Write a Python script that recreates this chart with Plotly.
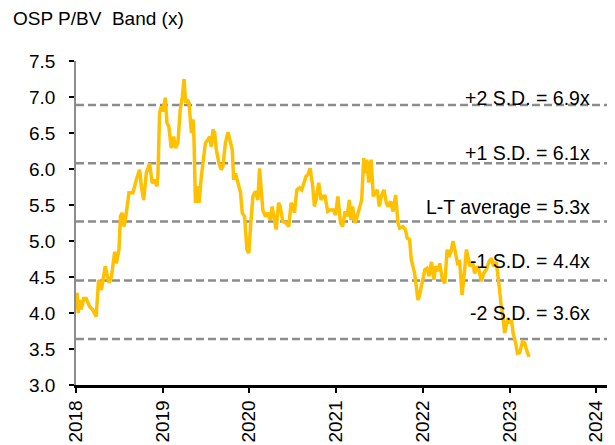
import plotly.graph_objects as go

# ---- data ----
dates = [
    "2018-01-02", "2018-01-06", "2018-01-10", "2018-01-16", "2018-01-23", "2018-02-02", "2018-02-13",
    "2018-02-27", "2018-03-11", "2018-03-20", "2018-03-27", "2018-04-06", "2018-04-18", "2018-05-04",
    "2018-05-20", "2018-05-30", "2018-06-13", "2018-06-20", "2018-07-01", "2018-07-07", "2018-07-15",
    "2018-07-22", "2018-08-01", "2018-08-12", "2018-08-29", "2018-09-12", "2018-09-26", "2018-10-03",
    "2018-10-13", "2018-10-24", "2018-11-07", "2018-11-18", "2018-11-28", "2018-12-08", "2018-12-12",
    "2018-12-19", "2018-12-26", "2019-01-02", "2019-01-12", "2019-01-19", "2019-01-27", "2019-02-06",
    "2019-02-16", "2019-02-24", "2019-03-06", "2019-03-16", "2019-03-25", "2019-04-01", "2019-04-08",
    "2019-04-15", "2019-04-22", "2019-05-02", "2019-05-09", "2019-05-13", "2019-05-19", "2019-05-27",
    "2019-06-03", "2019-06-13", "2019-06-23", "2019-06-30", "2019-07-11", "2019-07-18", "2019-07-25",
    "2019-08-01", "2019-08-08", "2019-08-15", "2019-08-26", "2019-09-05", "2019-09-12", "2019-09-22",
    "2019-10-03", "2019-10-13", "2019-10-21", "2019-10-27", "2019-11-04", "2019-11-14", "2019-11-25",
    "2019-12-02", "2019-12-12", "2019-12-22", "2019-12-30", "2020-01-06", "2020-01-16", "2020-01-27",
    "2020-02-06", "2020-02-13", "2020-02-20", "2020-02-27", "2020-03-09", "2020-03-19", "2020-03-29",
    "2020-04-06", "2020-04-16", "2020-04-23", "2020-05-03", "2020-05-10", "2020-05-21", "2020-06-04",
    "2020-06-15", "2020-06-25", "2020-07-02", "2020-07-09", "2020-07-19", "2020-07-30", "2020-08-09",
    "2020-08-17", "2020-08-27", "2020-09-03", "2020-09-13", "2020-09-24", "2020-10-01", "2020-10-08",
    "2020-10-19", "2020-10-29", "2020-11-05", "2020-11-15", "2020-11-26", "2020-12-06", "2020-12-20",
    "2020-12-29", "2021-01-08", "2021-01-19", "2021-01-28", "2021-02-07", "2021-02-16", "2021-02-25",
    "2021-03-04", "2021-03-11", "2021-03-21", "2021-03-30", "2021-04-09", "2021-04-18", "2021-04-27",
    "2021-05-04", "2021-05-10", "2021-05-18", "2021-05-28", "2021-06-06", "2021-06-14", "2021-06-23",
    "2021-07-01", "2021-07-10", "2021-07-21", "2021-07-31", "2021-08-07", "2021-08-18", "2021-08-28",
    "2021-09-08", "2021-09-18", "2021-09-25", "2021-10-09", "2021-10-19", "2021-10-27", "2021-11-06",
    "2021-11-13", "2021-11-27", "2021-12-04", "2021-12-11", "2021-12-18", "2021-12-29", "2022-01-09",
    "2022-01-18", "2022-01-27", "2022-02-06", "2022-02-16", "2022-02-24", "2022-03-06", "2022-03-13",
    "2022-03-23", "2022-04-03", "2022-04-13", "2022-04-21", "2022-05-01", "2022-05-08", "2022-05-18",
    "2022-05-27", "2022-06-05", "2022-06-15", "2022-06-26", "2022-07-03", "2022-07-10", "2022-07-17",
    "2022-07-29", "2022-08-07", "2022-08-17", "2022-08-25", "2022-09-04", "2022-09-14", "2022-09-25",
    "2022-10-06", "2022-10-16", "2022-10-26", "2022-11-06", "2022-11-13", "2022-11-20", "2022-11-27",
    "2022-12-04", "2022-12-11", "2022-12-18", "2022-12-25", "2023-01-02", "2023-01-09", "2023-01-16",
    "2023-01-27", "2023-02-03", "2023-02-13", "2023-02-24", "2023-03-06", "2023-03-13", "2023-03-24",
]
pbv = [
    4.05, 4.28, 4.00, 4.18, 4.05, 4.20, 4.20,
    4.09, 4.05, 3.98, 3.95, 4.46, 4.32, 4.65,
    4.42, 4.50, 4.85, 4.69, 4.88, 5.34, 5.39,
    5.20, 5.39, 5.67, 5.67, 5.85, 5.99, 5.76,
    5.57, 5.94, 6.08, 5.80, 5.85, 5.76, 5.90,
    6.78, 6.87, 6.80, 6.99, 6.64, 6.59, 6.29,
    6.45, 6.29, 6.36, 6.82, 7.01, 7.25, 6.92,
    6.96, 6.92, 6.50, 6.69, 6.41, 5.53, 5.76,
    5.53, 5.90, 6.13, 6.36, 6.41, 6.45, 6.31,
    6.55, 6.50, 6.27, 6.08, 5.99, 6.04, 6.36,
    6.51, 6.36, 6.27, 5.85, 5.94, 5.81, 5.67,
    5.39, 5.34, 4.88, 4.83, 5.20, 5.62, 5.69,
    5.57, 6.01, 5.71, 5.43, 5.34, 5.39, 5.29,
    5.48, 5.29, 5.16, 5.53, 5.48, 5.27, 5.25,
    5.20, 5.53, 5.48, 5.39, 5.71, 5.74, 5.71,
    5.81, 5.90, 5.92, 6.01, 5.76, 5.48, 5.57,
    5.81, 5.57, 5.62, 5.62, 5.41, 5.43, 5.43,
    5.36, 5.62, 5.25, 5.20, 5.41, 5.34, 5.57,
    5.29, 5.48, 5.25, 5.34, 5.48, 5.57, 6.15,
    5.94, 6.13, 5.81, 6.13, 5.62, 5.67, 5.71,
    5.48, 5.62, 5.71, 5.53, 5.48, 5.55, 5.41,
    5.64, 5.25, 5.18, 5.20, 5.16, 5.04, 5.02,
    4.74, 4.55, 4.37, 4.18, 4.25, 4.46, 4.60,
    4.62, 4.51, 4.71, 4.46, 4.65, 4.58, 4.69,
    4.48, 4.41, 4.88, 4.78, 4.88, 5.00, 4.85,
    4.69, 4.71, 4.25, 4.60, 4.88, 4.78, 4.65,
    4.71, 4.55, 4.65, 4.60, 4.44, 4.55, 4.60,
    4.71, 4.76, 4.65, 4.71, 4.55, 4.32, 4.09,
    3.95, 3.72, 3.81, 3.93, 3.86, 3.90, 3.72,
    3.58, 3.44, 3.45, 3.60, 3.58, 3.49, 3.39,
]

band_values = [6.89, 6.08, 5.27, 4.45, 3.64]
band_labels = ["+2 S.D. = 6.9x", "+1 S.D. = 6.1x", "L-T average = 5.3x",
               "-1 S.D. = 4.4x", "-2 S.D. = 3.6x"]
y_ticks = [3.0, 3.5, 4.0, 4.5, 5.0, 5.5, 6.0, 6.5, 7.0, 7.5]
year_ticks = ["2018-01-01", "2019-01-01", "2020-01-01", "2021-01-01",
              "2022-01-01", "2023-01-01", "2024-01-01"]
title_text = "OSP P/BV  Band (x)"

FONT = "Liberation Sans, Arial, sans-serif"
W, H = 607, 437  # page body has an 8px margin; fill the rest of the 615x445 window

fig = go.Figure()
fig.add_trace(go.Scatter(x=dates, y=pbv, mode="lines",
                         line=dict(color="#FFC000", width=3.5),
                         hoverinfo="skip", showlegend=False))

label_shift = [7, 10, 15, 20, 26]
for v, lab, sh in zip(band_values, band_labels, label_shift):
    fig.add_shape(type="line", xref="paper", x0=0, x1=1, yref="y", y0=v, y1=v,
                  line=dict(color="#8C8C8C", width=2.5, dash="8px,4px"), layer="below")
    fig.add_annotation(xref="paper", x=0.957, xanchor="right", yref="y", y=v,
                       yanchor="middle", yshift=sh, text=lab, showarrow=False,
                       font=dict(family=FONT, size=19.5, color="#000000"))

fig.update_layout(
    width=W, height=H,
    margin=dict(l=68, r=0, t=53, b=60),
    paper_bgcolor="white", plot_bgcolor="white",
    font=dict(family=FONT, size=19, color="#000000"),
    showlegend=False,
    title=dict(text=title_text, xref="container", yref="container",
               x=5 / W, xanchor="left", y=1 - 10 / H, yanchor="middle",
               font=dict(family=FONT, size=19, color="#000000")),
    xaxis=dict(type="date", range=["2018-01-01", "2024-03-20"],
               tickvals=year_ticks, tickformat="%Y", tickangle=-90,
               showgrid=False, zeroline=False,
               showline=True, linecolor="#000000", linewidth=2.5,
               ticks="outside", ticklen=5, tickwidth=2, tickcolor="#000000",
               tickfont=dict(family=FONT, size=19, color="#000000")),
    yaxis=dict(range=[3.0, 7.5], tickvals=y_ticks, tickformat=".1f",
               showgrid=False, zeroline=False,
               showline=True, linecolor="#8C8C8C", linewidth=1.5,
               ticks="outside", ticklen=5, tickwidth=2, tickcolor="#000000",
               ticklabelstandoff=10,
               tickfont=dict(family=FONT, size=19, color="#000000")),
)

fig.write_html("out.html")
